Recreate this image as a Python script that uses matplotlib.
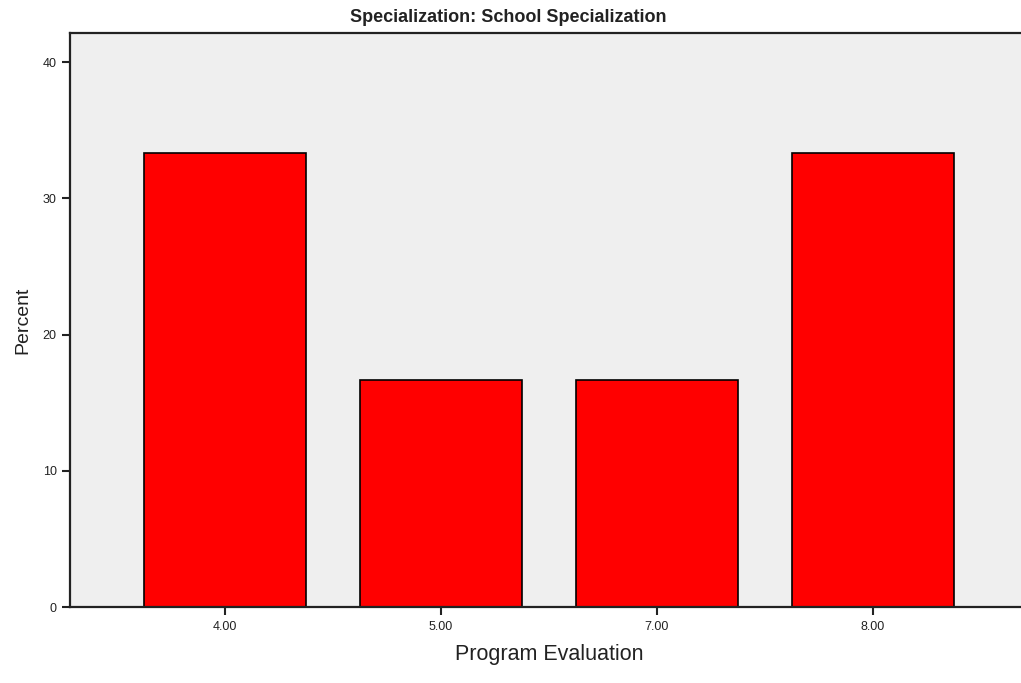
import matplotlib
matplotlib.use("Agg")
import matplotlib.pyplot as plt
from matplotlib import font_manager

# data
categories = ["4.00", "5.00", "7.00", "8.00"]
percent = [33.33, 16.67, 16.67, 33.33]
y_ticks = [0, 10, 20, 30, 40]

names = {f.name for f in font_manager.fontManager.ttflist}
narrow = "Liberation Sans Narrow" if "Liberation Sans Narrow" in names else "Liberation Sans"
plt.rcParams["font.family"] = [narrow, "DejaVu Sans"]

W, H = 1021, 683
fig = plt.figure(figsize=(W / 100, H / 100), dpi=100)
left, right, top, bottom = 70, 1028, 33, 607
ax = fig.add_axes([left / W, 1 - bottom / H, (right - left) / W, (bottom - top) / H])
ax.set_facecolor("#efefef")

x = range(len(categories))
ax.bar(x, percent, width=0.75, color="#ff0000", edgecolor="black", linewidth=1.2, zorder=2)

ax.set_xlim(-0.7176, 3.7176)
ax.set_ylim(0, 42.13)
ax.set_xticks(list(x))
ax.set_xticklabels(categories, fontsize=9, color="#222222")
ax.set_yticks(y_ticks)
ax.set_yticklabels([str(v) for v in y_ticks], fontsize=9, color="#222222")
ax.tick_params(axis="both", length=6, width=1.5, color="#222222")
ax.tick_params(axis="x", pad=4)

for side in ["left", "bottom", "top"]:
    ax.spines[side].set_linewidth(1.6)
    ax.spines[side].set_color("#222222")
ax.spines["right"].set_visible(False)

ax.set_ylabel("Percent", fontsize=14, color="#222222", labelpad=8)
ax.set_xlabel("Program Evaluation", fontsize=15.5, color="#222222", labelpad=8)
fig.text(508 / W, 1 - 18 / H, "Specialization: School Specialization",
         ha="center", va="center", fontsize=13, fontweight="bold", color="#222222")

fig.savefig("out.png", dpi=100)
